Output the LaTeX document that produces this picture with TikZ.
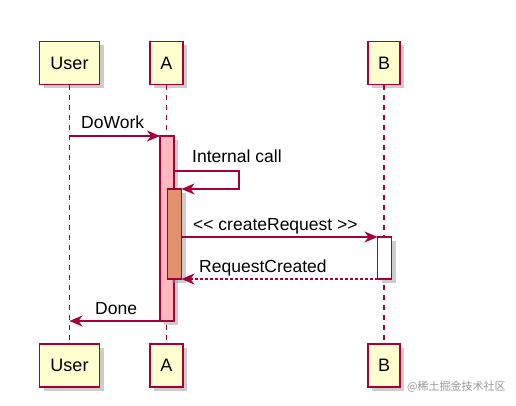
\documentclass[tikz,border=0pt]{standalone}
\usepackage{fontspec}
\setmainfont{Liberation Sans}
\newfontfamily\cjk{Noto Sans CJK SC}
\usetikzlibrary{arrows.meta,shadows}
\definecolor{pborder}{HTML}{A80036}
\definecolor{pfill}{HTML}{FEFECE}
\definecolor{barone}{HTML}{FFB8BC}
\definecolor{bartwo}{HTML}{E3906E}
\begin{document}
\begin{tikzpicture}[x=1pt,y=-1pt,
  shadowed/.style={drop shadow={shadow xshift=4pt,shadow yshift=-4pt,fill=black!40,opacity=.5}},
  participant/.style={draw=pborder,fill=pfill,line width=1.6pt,minimum height=43pt,inner sep=0pt,
    font=\fontsize{18}{20}\selectfont,shadowed},
  lifeline/.style={draw=pborder,line width=1.2pt,dash pattern=on 5pt off 5pt},
  actbar/.style={draw=pborder,line width=1.4pt,shadowed},
  msg/.style={draw=pborder,line width=1.3pt,-{Stealth[length=13pt,width=11pt,inset=4pt]}},
  retmsg/.style={msg,line width=1.1pt,dash pattern=on 2.5pt off 2.5pt},
  lbl/.style={anchor=base west,inner sep=0pt,font=\fontsize{17.5}{19}\selectfont}]
\useasboundingbox (0,0) rectangle (516,406);

% participants
\node[participant,minimum width=60pt] (userT) at (69.5,63) {User};
\node[participant,minimum width=33pt] (aT) at (166.5,63) {A};
\node[participant,minimum width=32pt] (bT) at (384,63) {B};
\node[participant,minimum width=60pt] (userB) at (69.5,365.5) {User};
\node[participant,minimum width=33pt] (aB) at (166.5,365.5) {A};
\node[participant,minimum width=32pt] (bB) at (384,365.5) {B};

% lifelines
\draw[lifeline] (userT.south) -- (userB.north);
\draw[lifeline] (aT.south) -- (aB.north);
\draw[lifeline] (bT.south) -- (bB.north);

% activation bars
\path[actbar,fill=barone] (160,136) rectangle (174,321);
\path[actbar,fill=bartwo] (167.5,189) rectangle (181.5,279);
\path[actbar,fill=white] (377.5,237) rectangle (391.5,279);

% coordinates
\coordinate (u1) at (userT.south |- 0,136);
\coordinate (a1) at (160,136);
\coordinate (s1) at (174,171);
\coordinate (s2) at (239,171);
\coordinate (s3) at (239,189);
\coordinate (s4) at (181.5,189);
\coordinate (c1) at (181.5,237);
\coordinate (c2) at (377.5,237);
\coordinate (r1) at (377.5,279);
\coordinate (r2) at (181.5,279);
\coordinate (d1) at (160,321);
\coordinate (u2) at (userT.south |- 0,321);

% messages
\draw[msg] (u1) -- (a1);
\node[lbl] (lDo) at (81,129) {DoWork};
\draw[msg] (s1) -- (s2) -- (s3) -- (s4);
\node[lbl] (lIn) at (192,163) {Internal call};
\draw[msg] (c1) -- (c2);
\node[lbl] (lCr) at (193,230) {<{}< createRequest >{}>};
\draw[retmsg] (r1) -- (r2);
\node[lbl] (lRc) at (199,272) {RequestCreated};
\draw[msg] (d1) -- (u2);
\node[lbl] (lDn) at (95,314) {Done};

% watermark
\node[anchor=west,inner sep=0pt,text=black!40,font=\cjk\fontsize{11}{12}\selectfont] (wm) at (407,387) {@稀土掘金技术社区};
\end{tikzpicture}
\end{document}
